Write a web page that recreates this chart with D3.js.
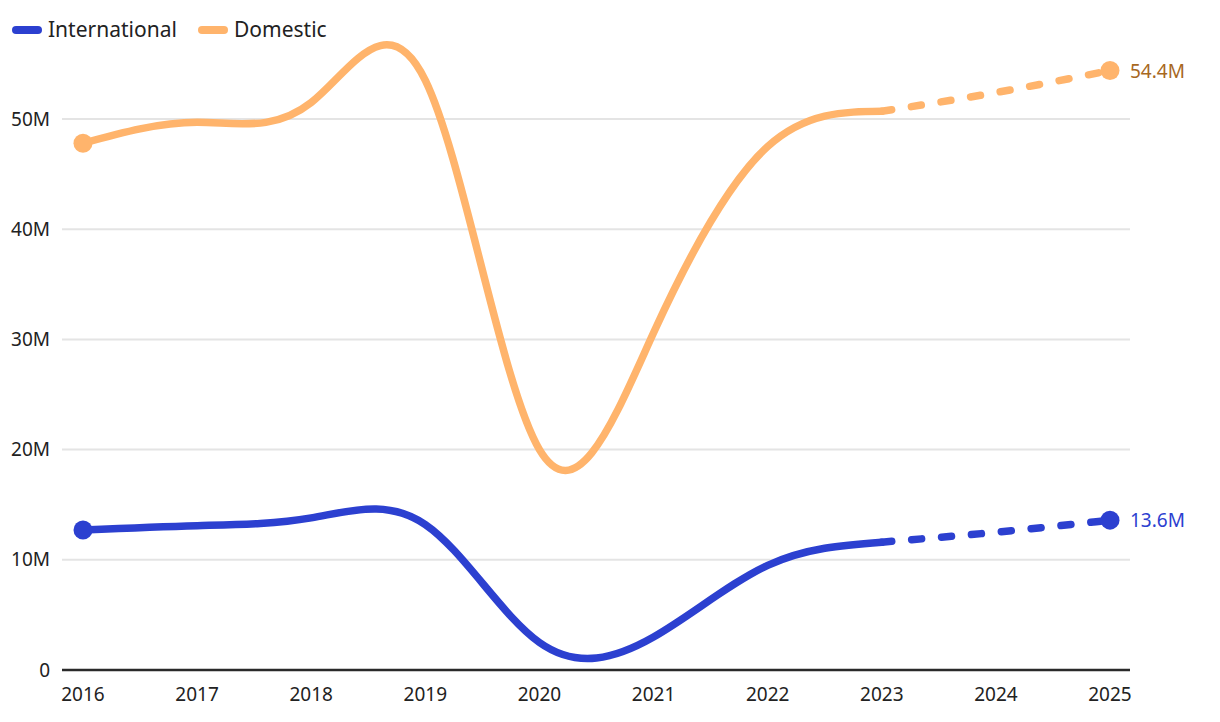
<!DOCTYPE html>
<html>
<head>
<meta charset="utf-8">
<script src="https://cdn.jsdelivr.net/npm/d3@7"></script>
<style>
  html, body { margin: 0; padding: 0; background: #fff; }
  svg { display: block; font-family: "Noto Sans", "Liberation Sans", sans-serif; }
</style>
</head>
<body>
<svg id="chart" width="1220" height="722"></svg>
<script>
// ---- data ----
const years = [2016, 2017, 2018, 2019, 2020, 2021, 2022, 2023, 2024, 2025];
const actualYears = [2016, 2017, 2018, 2019, 2020, 2021, 2022, 2023];
const projectedYears = [2023, 2024, 2025];
const internationalActual = [12.7, 13.1, 13.8, 13.2, 2.5, 3.0, 9.5, 11.6];
const internationalProjected = [11.6, 12.5, 13.6];
const domesticActual = [47.8, 49.7, 51.5, 53.5, 20.0, 30.6, 47.5, 50.7];
const domesticProjected = [50.7, 52.4, 54.4];
const yTicks = [0, 10, 20, 30, 40, 50];
const yTickLabels = ["0", "10M", "20M", "30M", "40M", "50M"];
const seriesNames = ["International", "Domestic"];
const endLabels = ["13.6M", "54.4M"];

// ---- styles ----
const colors = { International: "#2c40d0", Domestic: "#ffb46c" };
const labelColors = { International: "#2c40d0", Domestic: "#a8681f" };

const svg = d3.select("#chart");
const x = d3.scaleLinear().domain([2016, 2025]).range([83, 1110]);
const y = d3.scaleLinear().domain([0, 50]).range([670, 119]);
const gridX0 = 62, gridX1 = 1130;

// gridlines
svg.append("g").selectAll("line")
  .data(yTicks.filter(d => d > 0))
  .join("line")
  .attr("x1", gridX0).attr("x2", gridX1)
  .attr("y1", d => y(d)).attr("y2", d => y(d))
  .attr("stroke", "#e4e4e4").attr("stroke-width", 2);

// y labels
svg.append("g").selectAll("text")
  .data(yTicks)
  .join("text")
  .attr("x", 50).attr("y", d => y(d))
  .attr("dy", "0.35em")
  .attr("text-anchor", "end")
  .attr("font-size", 19)
  .attr("fill", "#222")
  .text((d, i) => yTickLabels[i]);

// x axis line
svg.append("line")
  .attr("x1", gridX0).attr("x2", gridX1)
  .attr("y1", y(0)).attr("y2", y(0))
  .attr("stroke", "#2a2a2a").attr("stroke-width", 2.5);

// x labels
svg.append("g").selectAll("text")
  .data(years)
  .join("text")
  .attr("x", d => x(d)).attr("y", 701)
  .attr("text-anchor", "middle")
  .attr("font-size", 19)
  .attr("fill", "#222")
  .text(d => d);

const line = d3.line()
  .x(d => x(d[0])).y(d => y(d[1]))
  .curve(d3.curveNatural);

const series = [
  { name: "Domestic", actual: domesticActual, proj: domesticProjected, label: endLabels[1] },
  { name: "International", actual: internationalActual, proj: internationalProjected, label: endLabels[0] }
];

series.forEach(s => {
  const a = actualYears.map((yr, i) => [yr, s.actual[i]]);
  const p = projectedYears.map((yr, i) => [yr, s.proj[i]]);
  svg.append("path").datum(a)
    .attr("d", line).attr("fill", "none")
    .attr("stroke", colors[s.name]).attr("stroke-width", 7.5)
    .attr("stroke-linecap", "round").attr("stroke-linejoin", "round");
  svg.append("path").datum(p)
    .attr("d", line).attr("fill", "none")
    .attr("stroke", colors[s.name]).attr("stroke-width", 7.5)
    .attr("stroke-linecap", "round")
    .attr("stroke-dasharray", "10 20");
  svg.append("circle")
    .attr("cx", x(a[0][0])).attr("cy", y(a[0][1])).attr("r", 9.5)
    .attr("fill", colors[s.name]);
  const last = p[p.length - 1];
  svg.append("circle")
    .attr("cx", x(last[0])).attr("cy", y(last[1])).attr("r", 9.5)
    .attr("fill", colors[s.name]);
  svg.append("text")
    .attr("x", x(last[0]) + 20).attr("y", y(last[1]))
    .attr("dy", "0.38em")
    .attr("font-size", 19)
    .attr("fill", labelColors[s.name])
    .text(s.label);
});

// legend
const legend = svg.append("g");
const legendX = [12, 198];
seriesNames.forEach((n, i) => {
  legend.append("line")
    .attr("x1", legendX[i] + 4).attr("x2", legendX[i] + 26)
    .attr("y1", 30).attr("y2", 30)
    .attr("stroke", colors[n]).attr("stroke-width", 8)
    .attr("stroke-linecap", "round");
  legend.append("text")
    .attr("x", legendX[i] + 36).attr("y", 30)
    .attr("dy", "0.35em")
    .attr("font-size", 21)
    .attr("fill", "#222")
    .text(n);
});
</script>
</body>
</html>
